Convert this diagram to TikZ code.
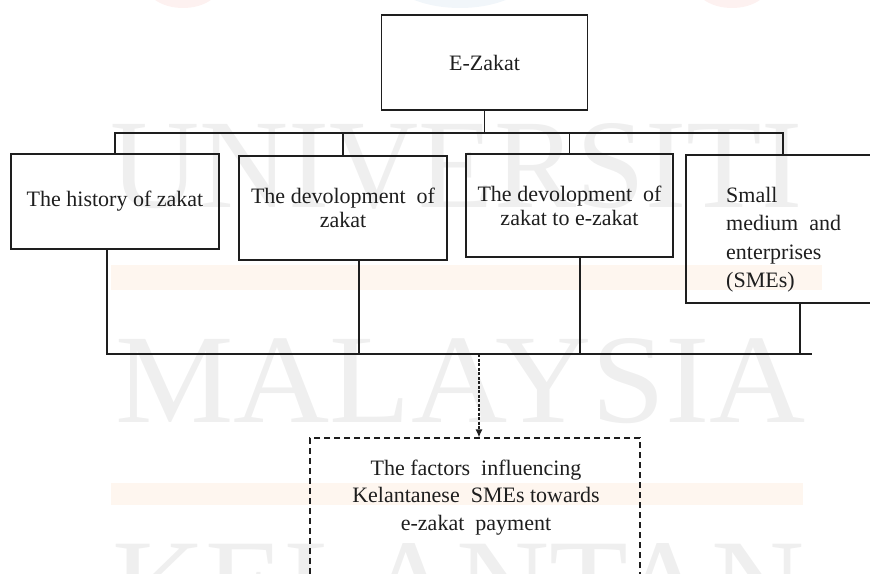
\documentclass[tikz,border=0pt]{standalone}
\usepackage{fontspec}
\setmainfont{Liberation Serif}
\usetikzlibrary{arrows.meta}
\definecolor{inkline}{HTML}{1E1E1E}
\definecolor{bandtint}{HTML}{FEF6EF}
\definecolor{wmgray}{HTML}{EFEFEF}
\definecolor{logored}{HTML}{FDF1F0}
\definecolor{logoblue}{HTML}{F1F6FA}
\begin{document}
\begin{tikzpicture}[x=1pt,y=-1pt,
  box/.style={draw=inkline, line width=1.6pt, inner sep=0pt,
    font=\fontsize{22}{24}\selectfont, align=center, text=inkline},
  dashbox/.style={draw=inkline, line width=1.2pt, dash pattern=on 6pt off 4pt, inner sep=0pt},
  caption/.style={inner sep=0pt, text=inkline},
  link/.style={draw=inkline, line width=1.6pt},
  flow/.style={draw=inkline, line width=1.2pt, dash pattern=on 3pt off 1.5pt,
    -{Latex[length=8pt,width=7pt]}},
  watermark/.style={text=wmgray, inner sep=0pt, anchor=north west}
]
\useasboundingbox (0,0) rectangle (870,573);
\clip (0,0) rectangle (870,573);

% faint background: logos, tinted bands and watermark lettering
\fill[logored] (183,-14) ellipse [x radius=36, y radius=22];
\fill[logoblue] (460,-34) ellipse [x radius=78, y radius=42];
\fill[logored] (732,-14) ellipse [x radius=36, y radius=22];
\fill[bandtint] (111,265) rectangle (822,290);
\fill[bandtint] (111,483) rectangle (803,505);
\node[watermark] (wmA) at (110,123) {\resizebox{692pt}{84pt}{UNIVERSITI}};
\node[watermark] (wmB) at (115,338) {\resizebox{690pt}{84pt}{MALAYSIA}};
\node[watermark] (wmC) at (112,543) {\resizebox{692pt}{84pt}{KELANTAN}};

% boxes
\node[box, minimum width=206pt, minimum height=95pt] (ez) at (484.5,62.5) {E-Zakat};
\node[box, minimum width=208pt, minimum height=95pt] (b1) at (115,201.5) {The history of zakat};
\node[box, minimum width=208pt, minimum height=104pt] (b2) at (343,208) {The devolopment \ of\\zakat};
\node[box, minimum width=207pt, minimum height=103pt] (b3) at (569.5,205.5) {The devolopment \ of\\zakat to e-zakat};
\node[box, minimum width=194pt, minimum height=148pt] (b4) at (783,229) {};
\node[caption, anchor=north west, align=left, font=\fontsize{22}{28.5}\selectfont] (b4txt) at (726,187)
  {Small\\medium \ and\\enterprises\\(SMEs)};
\node[dashbox, minimum width=330pt, minimum height=170pt] (goal) at (475,523) {};
\node[caption, align=center, font=\fontsize{22}{27.5}\selectfont] (goaltxt) at (476,497.5)
  {The factors \ influencing\\Kelantanese \ SMEs towards\\e-zakat \ payment};

% upper tree
\coordinate (bus) at (484.5,133);
\draw[link] (ez.south) -- (ez.south |- bus);
\draw[link] (b1.north) -- (b1.north |- bus) -- (b4.north |- bus) -- (b4.north);
\draw[link] (b2.north) -- (b2.north |- bus);
\draw[link] (b3.north) -- (b3.north |- bus);

% lower collector
\coordinate (lowbus) at (0,354);
\coordinate (busend) at (812,354);
\coordinate (d1) at ([xshift=-8pt]b1.south);
\coordinate (d2) at ([xshift=16pt]b2.south);
\coordinate (d3) at ([xshift=10.5pt]b3.south);
\coordinate (d4) at ([xshift=17pt]b4.south);
\draw[link] (d1) -- (d1 |- lowbus) -- (busend);
\draw[link] (d2) -- (d2 |- lowbus);
\draw[link] (d3) -- (d3 |- lowbus);
\draw[link] (d4) -- (d4 |- lowbus);

% dotted arrow to the outcome box
\coordinate (tap) at (479,354);
\draw[flow] (tap) -- (tap |- goal.north);
\end{tikzpicture}
\end{document}
